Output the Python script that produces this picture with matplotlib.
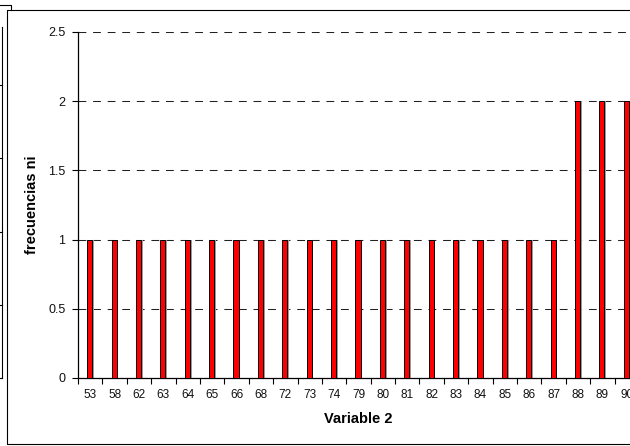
import numpy as np
import matplotlib
matplotlib.use('Agg')
import matplotlib.pyplot as plt
from matplotlib.lines import Line2D

plt.rcParams['font.family'] = ['Liberation Sans', 'DejaVu Sans']

categories = ['53', '58', '62', '63', '64', '65', '66', '68', '72', '73', '74', '79',
              '80', '81', '82', '83', '84', '85', '86', '87', '88', '89', '90']
frecuencias = [1, 1, 1, 1, 1, 1, 1, 1, 1, 1, 1, 1,
               1, 1, 1, 1, 1, 1, 1, 1, 2, 2, 2]
yticks = [0, 0.5, 1, 1.5, 2, 2.5]
ytick_labels = ['0', '0.5', '1', '1.5', '2', '2.5']

W, H = 630, 446
fig = plt.figure(figsize=(W/100, H/100), dpi=100)


def fig_line(xs, ys, c='k', lw=0.8):
    # pixel coords (from top-left) -> figure fraction
    fx = [x / W for x in xs]
    fy = [1 - y / H for y in ys]
    fig.add_artist(Line2D(fx, fy, color=c, lw=lw, transform=fig.transFigure))


# remnants of the chart behind
fig_line([0, 11, 11], [5, 5, 10])
fig_line([2, 2], [27, 378])
for yy in [85, 158, 232, 305, 378]:
    fig_line([0, 2], [yy, yy])

# chart frame
fig_line([640, 7, 7, 640], [10, 10, 444, 444])

left, top, right, bottom = 78, 32, 639, 378
ax = fig.add_axes([left / W, 1 - bottom / H, (right - left) / W, (bottom - top) / H])

x = np.arange(len(categories))
bw = 0.21
# gray shadow on the right side of each bar
ax.bar(x + 0.05, frecuencias, width=bw, color='#9a9a9a', zorder=2)
ax.bar(x - 0.02, frecuencias, width=bw, color='#ff0000', edgecolor='black',
       linewidth=0.7, zorder=3)

ax.set_xlim(-0.5, len(categories) - 0.5)
ax.set_ylim(0, 2.5)

for yv in yticks[1:]:
    ax.axhline(yv, color='#222222', lw=0.75, dashes=(7.5, 6.5), zorder=1)

for s in ['top', 'right']:
    ax.spines[s].set_visible(False)
ax.spines['left'].set_linewidth(0.9)
ax.spines['bottom'].set_linewidth(0.9)

ax.set_yticks(yticks)
ax.set_yticklabels(ytick_labels, fontsize=9, color='#111111')
ax.tick_params(axis='y', direction='out', length=4, width=0.8, pad=5)

ax.set_xticks(x)
ax.set_xticklabels(categories, fontsize=8.5, color='#111111')
ax.set_xticks(np.arange(len(categories) + 1) - 0.5, minor=True)
ax.tick_params(axis='x', which='major', length=0, pad=8)
ax.tick_params(axis='x', which='minor', direction='out', length=4, width=0.8)

ax.set_xlabel('Variable 2', fontsize=10.5, fontweight='bold', va='center')
ax.xaxis.set_label_coords(0.5, -(419 - bottom) / (bottom - top))
ax.set_ylabel('frecuencias ni', fontsize=10.5, fontweight='bold', va='center')
ax.yaxis.set_label_coords((32 - left) / (right - left), 0.5)

fig.savefig('out.png', dpi=100)
